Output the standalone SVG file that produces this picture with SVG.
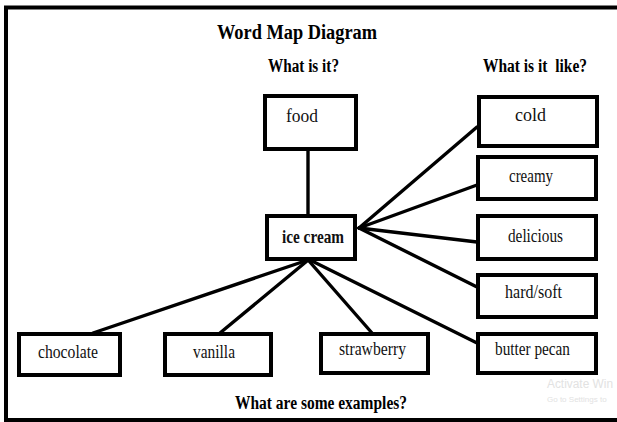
<svg xmlns="http://www.w3.org/2000/svg" width="617" height="422" viewBox="0 0 617 422">
<style>
.box{fill:#fff;stroke:#000;stroke-width:4}
.lbl{font-family:"Liberation Serif","Times New Roman",serif;font-size:19px;fill:#111}
.hd{font-family:"Liberation Serif","Times New Roman",serif;font-weight:bold;fill:#000}
.wm{font-family:"Liberation Sans",Arial,sans-serif;fill:#e2e2e2}
#connectors line{stroke:#000;stroke-width:3.4;stroke-linecap:round}
</style>
<rect x="0" y="0" width="617" height="422" fill="#fff"/>
<path d="M617,7.5 H6 V420 H617" fill="none" stroke="#000" stroke-width="4"/>
<g id="headings">
<text class="hd" x="217" y="39" font-size="20" textLength="160" lengthAdjust="spacingAndGlyphs">Word Map Diagram</text>
<text class="hd" x="268" y="72" font-size="18" textLength="71" lengthAdjust="spacingAndGlyphs">What is it?</text>
<text class="hd" x="483" y="72" font-size="18" textLength="104" lengthAdjust="spacingAndGlyphs" xml:space="preserve">What is it  like?</text>
<text class="hd" x="235" y="409" font-size="18" textLength="172" lengthAdjust="spacingAndGlyphs">What are some examples?</text>
</g>
<g id="connectors">
<line x1="308" y1="151" x2="308" y2="214"/>
<line x1="359" y1="228" x2="477" y2="127"/>
<line x1="359" y1="228" x2="477" y2="185"/>
<line x1="359" y1="228" x2="477" y2="242"/>
<line x1="359" y1="228" x2="477" y2="287"/>
<line x1="312" y1="261" x2="477" y2="343"/>
<line x1="305" y1="261" x2="93" y2="333"/>
<line x1="307" y1="261" x2="220" y2="333"/>
<line x1="309" y1="261" x2="372" y2="333"/>
</g>
<g id="food"><rect class="box" x="265" y="96" width="91" height="53"/><text class="lbl" x="286" y="122" textLength="32" lengthAdjust="spacingAndGlyphs">food</text></g>
<g id="ice-cream"><rect class="box" x="267" y="216" width="88" height="43"/><text class="lbl" x="282" y="243" font-weight="bold" textLength="62" lengthAdjust="spacingAndGlyphs">ice cream</text></g>
<g id="cold"><rect class="box" x="479" y="97" width="118" height="49"/><text class="lbl" x="515" y="121" textLength="31" lengthAdjust="spacingAndGlyphs">cold</text></g>
<g id="creamy"><rect class="box" x="478" y="157" width="118" height="42"/><text class="lbl" x="509" y="182" textLength="44" lengthAdjust="spacingAndGlyphs">creamy</text></g>
<g id="delicious"><rect class="box" x="478" y="216" width="118" height="43"/><text class="lbl" x="508" y="242" textLength="55" lengthAdjust="spacingAndGlyphs">delicious</text></g>
<g id="hard-soft"><rect class="box" x="478" y="275" width="118" height="42"/><text class="lbl" x="505" y="298" textLength="57" lengthAdjust="spacingAndGlyphs">hard/soft</text></g>
<g id="butter-pecan"><rect class="box" x="478" y="334" width="118" height="39"/><text class="lbl" x="495" y="355" textLength="75" lengthAdjust="spacingAndGlyphs">butter pecan</text></g>
<g id="chocolate"><rect class="box" x="19" y="334" width="101" height="41"/><text class="lbl" x="38" y="358" textLength="60" lengthAdjust="spacingAndGlyphs">chocolate</text></g>
<g id="vanilla"><rect class="box" x="165" y="334" width="106" height="41"/><text class="lbl" x="193" y="358" textLength="42" lengthAdjust="spacingAndGlyphs">vanilla</text></g>
<g id="strawberry"><rect class="box" x="321" y="334" width="107" height="39"/><text class="lbl" x="339" y="355" textLength="67" lengthAdjust="spacingAndGlyphs">strawberry</text></g>
<g id="watermark">
<text class="wm" x="547" y="388" font-size="12" textLength="66" lengthAdjust="spacingAndGlyphs">Activate Win</text>
<text class="wm" x="547" y="402" font-size="8">Go to Settings to</text>
</g>
</svg>
